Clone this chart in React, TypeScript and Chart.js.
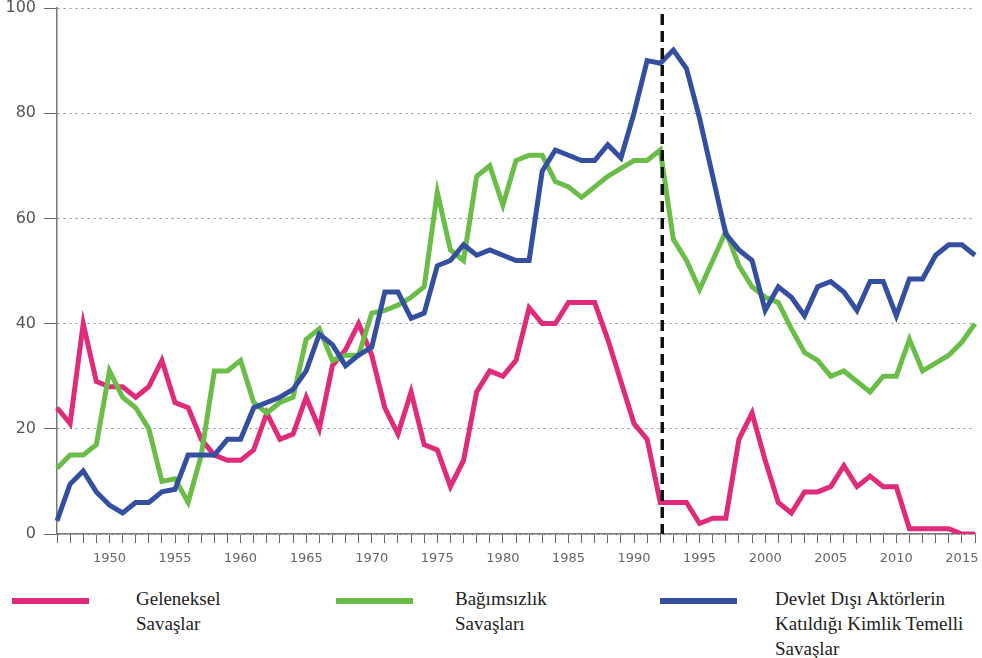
import React, { useEffect, useRef } from "react";
import { Chart, registerables } from "chart.js";

Chart.register(...registerables);

const years = [
  "1946", "1947", "1948", "1949", "1950", "1951", "1952", "1953", "1954", "1955",
  "1956", "1957", "1958", "1959", "1960", "1961", "1962", "1963", "1964", "1965",
  "1966", "1967", "1968", "1969", "1970", "1971", "1972", "1973", "1974", "1975",
  "1976", "1977", "1978", "1979", "1980", "1981", "1982", "1983", "1984", "1985",
  "1986", "1987", "1988", "1989", "1990", "1991", "1992", "1993", "1994", "1995",
  "1996", "1997", "1998", "1999", "2000", "2001", "2002", "2003", "2004", "2005",
  "2006", "2007", "2008", "2009", "2010", "2011", "2012", "2013", "2014", "2015",
  "2016",
];

const xTickLabels = [
  "1950", "1955", "1960", "1965", "1970", "1975", "1980", "1985",
  "1990", "1995", "2000", "2005", "2010", "2015",
];

const yTickValues = [0, 20, 40, 60, 80, 100];

const dividerYear = "1992";

// Geleneksel Savaşlar
const geleneksel = [
  24, 21, 40, 29, 28, 28, 26, 28, 33, 25,
  24, 18, 15, 14, 14, 16, 23, 18, 19, 26,
  20, 32, 35, 40, 34, 24, 19, 27, 17, 16,
  9, 14, 27, 31, 30, 33, 43, 40, 40, 44,
  44, 44, 37, 29, 21, 18, 6, 6, 6, 2,
  3, 3, 18, 23, 14, 6, 4, 8, 8, 9,
  13, 9, 11, 9, 9, 1, 1, 1, 1, 0,
  0,
];

// Bağımsızlık Savaşları
const bagimsizlik = [
  12.5, 15, 15, 17, 31, 26, 24, 20, 10, 10.5,
  6, 15, 31, 31, 33, 25, 23, 25, 26, 37,
  39, 33, 34, 34, 42, 42.5, 43.5, 45, 47, 65,
  54, 52, 68, 70, 62.5, 71, 72, 72, 67, 66,
  64, 66, 68, 69.5, 71, 71, 73, 56, 52, 46.5,
  52, 57.5, 51, 47, 45, 44, 39, 34.5, 33, 30,
  31, 29, 27, 30, 30, 37, 31, 32.5, 34, 36.5,
  40,
];

// Devlet Dışı Aktörlerin Katıldığı Kimlik Temelli Savaşlar
const devletDisi = [
  2.5, 9.5, 12, 8, 5.5, 4, 6, 6, 8, 8.5,
  15, 15, 15, 18, 18, 24, 25, 26, 27.5, 31,
  38, 36, 32, 34, 35.5, 46, 46, 41, 42, 51,
  52, 55, 53, 54, 53, 52, 52, 69, 73, 72,
  71, 71, 74, 71.5, 80, 90, 89.5, 92, 88.5, 79,
  68, 57, 54, 52, 42.5, 47, 45, 41.5, 47, 48,
  46, 42.5, 48, 48, 41.5, 48.5, 48.5, 53, 55, 55,
  53,
];

const PINK = "#E02A7A";
const GREEN = "#6ABE48";
const BLUE = "#354FA0";

const legendItems = [
  { color: PINK, lines: ["Geleneksel", "Savaşlar"], swatchLeft: 12, textLeft: 136 },
  { color: GREEN, lines: ["Bağımsızlık", "Savaşları"], swatchLeft: 336, textLeft: 455 },
  {
    color: BLUE,
    lines: ["Devlet Dışı Aktörlerin", "Katıldığı Kimlik Temelli", "Savaşlar"],
    swatchLeft: 660,
    textLeft: 775,
  },
];

const dividerPlugin = {
  id: "dividerLine",
  afterDatasetsDraw(chart: any) {
    const xScale = chart.scales.x;
    const idx = years.indexOf(dividerYear);
    const x = xScale.getPixelForValue(idx) + 2;
    const { top, bottom } = chart.chartArea;
    const ctx = chart.ctx;
    ctx.save();
    ctx.strokeStyle = "#111";
    ctx.lineWidth = 3.5;
    ctx.setLineDash([11, 6]);
    ctx.beginPath();
    ctx.moveTo(x, top + 6);
    ctx.lineTo(x, bottom);
    ctx.stroke();
    ctx.restore();
  },
};

export default function App() {
  const canvasRef = useRef<HTMLCanvasElement | null>(null);

  useEffect(() => {
    if (!canvasRef.current) return;
    const chart = new Chart(canvasRef.current, {
      type: "line",
      data: {
        labels: years,
        datasets: [
          {
            label: "Devlet Dışı Aktörlerin Katıldığı Kimlik Temelli Savaşlar",
            data: devletDisi,
            borderColor: BLUE,
            backgroundColor: BLUE,
            borderWidth: 5,
            pointRadius: 0,
            tension: 0,
            order: 1,
          },
          {
            label: "Bağımsızlık Savaşları",
            data: bagimsizlik,
            borderColor: GREEN,
            backgroundColor: GREEN,
            borderWidth: 5,
            pointRadius: 0,
            tension: 0,
            order: 2,
          },
          {
            label: "Geleneksel Savaşlar",
            data: geleneksel,
            borderColor: PINK,
            backgroundColor: PINK,
            borderWidth: 5,
            pointRadius: 0,
            tension: 0,
            order: 3,
          },
        ],
      },
      options: {
        animation: false,
        responsive: false,
        maintainAspectRatio: false,
        layout: { padding: { top: 0, right: 7, left: 0, bottom: 0 } },
        plugins: {
          legend: { display: false },
          tooltip: { enabled: false },
        },
        scales: {
          x: {
            type: "category",
            offset: false,
            afterFit: (s: any) => {
              s.height = 46;
              s.paddingLeft = 0;
              s.paddingRight = 0;
            },
            grid: {
              display: true,
              drawOnChartArea: false,
              drawTicks: true,
              tickLength: 9,
              tickColor: "#666",
              tickWidth: 1,
            },
            border: { display: true, color: "#777", width: 1.5 },
            ticks: {
              autoSkip: false,
              maxRotation: 0,
              minRotation: 0,
              padding: 8,
              color: "#666",
              font: { family: "DejaVu Sans", size: 13 },
              callback: (_v: any, i: number) =>
                xTickLabels.includes(years[i]) ? years[i] : "",
            },
          },
          y: {
            min: 0,
            max: 100,
            afterFit: (s: any) => {
              s.width = 57;
              s.paddingTop = 8;
              s.paddingBottom = 0;
            },
            afterBuildTicks: (s: any) => {
              s.ticks = yTickValues.map((v) => ({ value: v }));
            },
            grid: {
              display: true,
              drawOnChartArea: true,
              drawTicks: true,
              tickLength: 13,
              tickColor: "#666",
              tickBorderDash: [],
              color: "#8a8a8a",
              lineWidth: 1,
            },
            border: { display: true, color: "#777", width: 1.5, dash: [2, 4] },
            ticks: {
              padding: 8,
              color: "#555",
              font: { family: "DejaVu Sans", size: 16, lineHeight: 1 },
            },
          },
        },
      },
      plugins: [dividerPlugin],
    });
    return () => chart.destroy();
  }, []);

  return (
    <div
      style={{
        position: "absolute",
        left: 0,
        top: 0,
        width: 982,
        height: 658,
        overflow: "hidden",
        background: "#fff",
      }}
    >
      <canvas
        ref={canvasRef}
        width={982}
        height={580}
        style={{ position: "absolute", left: 0, top: 0, width: 982, height: 580 }}
      />
      {legendItems.map((item, k) => (
        <React.Fragment key={k}>
          <div
            style={{
              position: "absolute",
              left: item.swatchLeft,
              top: 598,
              width: 77,
              height: 6,
              background: item.color,
            }}
          />
          <div
            style={{
              position: "absolute",
              left: item.textLeft,
              top: 586,
              fontFamily: "'Liberation Serif', serif",
              fontSize: 19,
              lineHeight: "25px",
              color: "#222",
              whiteSpace: "nowrap",
            }}
          >
            {item.lines.map((l, j) => (
              <div key={j}>{l}</div>
            ))}
          </div>
        </React.Fragment>
      ))}
    </div>
  );
}
